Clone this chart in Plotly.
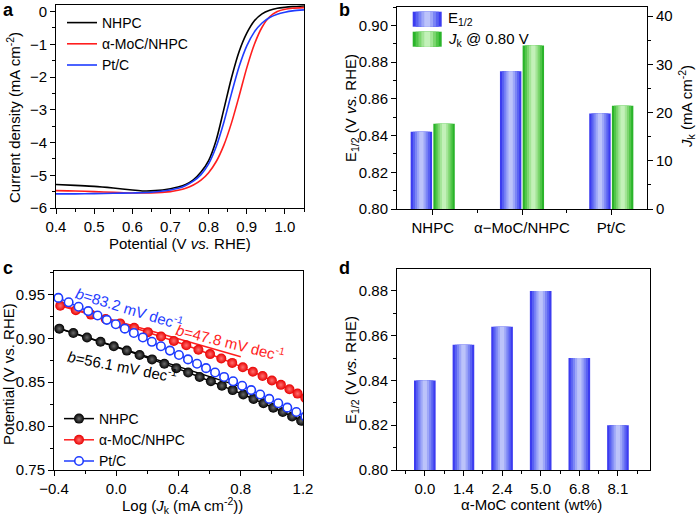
import plotly.graph_objects as go

# ---------------- Panel a: LSV curves ----------------
E_nhpc = [0.40, 0.45, 0.50, 0.55, 0.60, 0.63, 0.66, 0.70, 0.72, 0.74, 0.76, 0.78, 0.80, 0.82, 0.84, 0.86, 0.88, 0.90, 0.92, 0.94, 0.96, 0.98, 1.00, 1.02, 1.05]
j_nhpc = [-5.28, -5.31, -5.34, -5.39, -5.45, -5.48, -5.47, -5.41, -5.36, -5.28, -5.14, -4.90, -4.55, -3.92, -2.98, -2.02, -1.22, -0.66, -0.28, -0.07, 0.04, 0.10, 0.13, 0.15, 0.17]
E_moc = [0.40, 0.45, 0.50, 0.55, 0.60, 0.65, 0.70, 0.72, 0.74, 0.76, 0.78, 0.80, 0.82, 0.84, 0.86, 0.88, 0.90, 0.92, 0.94, 0.96, 0.98, 1.00, 1.02, 1.05]
j_moc = [-5.47, -5.48, -5.50, -5.52, -5.54, -5.54, -5.50, -5.46, -5.40, -5.30, -5.15, -4.92, -4.58, -4.08, -3.40, -2.58, -1.72, -1.00, -0.48, -0.16, 0.00, 0.07, 0.10, 0.12]
E_ptc = [0.40, 0.45, 0.50, 0.55, 0.60, 0.65, 0.70, 0.72, 0.74, 0.76, 0.78, 0.80, 0.82, 0.84, 0.86, 0.88, 0.90, 0.92, 0.94, 0.96, 0.98, 1.00, 1.02, 1.05]
j_ptc = [-5.57, -5.57, -5.56, -5.55, -5.54, -5.52, -5.45, -5.40, -5.31, -5.18, -4.98, -4.65, -4.12, -3.38, -2.50, -1.68, -1.05, -0.62, -0.35, -0.18, -0.08, -0.02, 0.02, 0.05]

# ---------------- Panel b: E1/2 and Jk ----------------
b_cats = ["NHPC", "\u03b1\u2212MoC/NHPC", "Pt/C"]
b_e12 = [0.842, 0.875, 0.852]
b_jk = [17.7, 33.9, 21.4]

# ---------------- Panel c: Tafel plots ----------------
c_x_nhpc = [-0.366, -0.276, -0.188, -0.101, -0.016, 0.068, 0.150, 0.230, 0.309, 0.386, 0.462, 0.536, 0.608, 0.679, 0.748, 0.816, 0.882, 0.946, 1.009, 1.070, 1.130, 1.188]
c_y_nhpc = [0.911, 0.906, 0.901, 0.896, 0.891, 0.886, 0.881, 0.876, 0.871, 0.866, 0.861, 0.856, 0.851, 0.846, 0.841, 0.836, 0.831, 0.826, 0.821, 0.816, 0.811, 0.806]
c_x_moc = [-0.360, -0.260, -0.163, -0.068, 0.025, 0.115, 0.203, 0.288, 0.370, 0.450, 0.528, 0.603, 0.675, 0.745, 0.813, 0.878, 0.940, 1.000, 1.058, 1.113, 1.165, 1.215]
c_y_moc = [0.937, 0.932, 0.927, 0.922, 0.917, 0.912, 0.907, 0.902, 0.897, 0.892, 0.887, 0.882, 0.877, 0.872, 0.867, 0.862, 0.857, 0.852, 0.847, 0.842, 0.837, 0.832]
c_x_ptc = [-0.372, -0.306, -0.242, -0.180, -0.120, -0.061, -0.003, 0.055, 0.113, 0.171, 0.229, 0.287, 0.345, 0.403, 0.461, 0.519, 0.577, 0.635, 0.693, 0.751, 0.809, 0.867, 0.925, 0.983, 1.041, 1.099, 1.157, 1.215]
c_y_ptc = [0.946, 0.941, 0.936, 0.931, 0.926, 0.921, 0.916, 0.911, 0.906, 0.901, 0.896, 0.891, 0.886, 0.881, 0.876, 0.871, 0.866, 0.861, 0.856, 0.851, 0.846, 0.841, 0.836, 0.831, 0.826, 0.821, 0.816, 0.811]
fit_x = [-0.38, 0.80]
fit_y_nhpc = [0.912, 0.845]
fit_y_moc = [0.939, 0.879]
tafel_labels = ["<i>b</i>=83.2 mV dec<sup>-1</sup>", "<i>b</i>=47.8 mV dec<sup>-1</sup>", "<i>b</i>=56.1 mV dec<sup>-1</sup>"]

# ---------------- Panel d: E1/2 vs content ----------------
d_labels = ["0.0", "1.4", "2.4", "5.0", "6.8", "8.1"]
d_e12 = [0.840, 0.856, 0.864, 0.880, 0.850, 0.820]

FONT = "Liberation Sans, Arial, sans-serif"
FS = 15
LFS = 14
W, H = 698, 516
BLACK, RED, BLUE = "#000000", "#ff1e1e", "#1f3cff"
BLUE_GRAD = ["#3c3cf0", "#5a62f2", "#7b85f5", "#9ea7f8", "#bcc3fa"]
GREEN_GRAD = ["#2ab42a", "#52c64a", "#7cd66f", "#a3e597", "#c3f1b9"]
FRACS = [1.0, 0.8, 0.6, 0.4, 0.2]


def px(x):
    return x / W


def py(y):
    return 1 - y / H


fig = go.Figure()

# panel a
for E, j, name, col in [(E_nhpc, j_nhpc, "NHPC", BLACK), (E_moc, j_moc, "\u03b1-MoC/NHPC", RED), (E_ptc, j_ptc, "Pt/C", BLUE)]:
    fig.add_trace(go.Scatter(x=E, y=j, mode="lines", name=name, line=dict(color=col, width=1.6, shape="spline", smoothing=0.8),
                             xaxis="x", yaxis="y", legend="legend"))

# panel b bars (gradient by overlaid layers)
bw = 0.24
pos_blue = [i - 0.127 for i in range(len(b_cats))]
pos_green = [i + 0.127 for i in range(len(b_cats))]
for f, c in zip(FRACS, BLUE_GRAD):
    fig.add_trace(go.Bar(x=pos_blue, y=b_e12, width=[bw * f] * 3, marker=dict(color=c, line=dict(width=0)),
                         xaxis="x2", yaxis="y2", showlegend=False))
for f, c in zip(FRACS, GREEN_GRAD):
    fig.add_trace(go.Bar(x=pos_green, y=b_jk, width=[bw * f] * 3, marker=dict(color=c, line=dict(width=0)),
                         xaxis="x2", yaxis="y3", showlegend=False))

# panel c
fig.add_trace(go.Scatter(x=fit_x, y=fit_y_nhpc, mode="lines", line=dict(color=BLACK, width=1.5), xaxis="x3", yaxis="y4", showlegend=False))
fig.add_trace(go.Scatter(x=fit_x, y=fit_y_moc, mode="lines", line=dict(color=RED, width=1.5), xaxis="x3", yaxis="y4", showlegend=False))
fig.add_trace(go.Scatter(x=c_x_nhpc, y=c_y_nhpc, mode="lines+markers", name="NHPC",
                         line=dict(color=BLACK, width=1.5),
                         marker=dict(size=10, color=BLACK, gradient=dict(type="radial", color="#6a6a6a"), line=dict(width=0)),
                         xaxis="x3", yaxis="y4", legend="legend2"))
fig.add_trace(go.Scatter(x=c_x_moc, y=c_y_moc, mode="lines+markers", name="\u03b1-MoC/NHPC",
                         line=dict(color=RED, width=1.5),
                         marker=dict(size=10, color="#e80000", gradient=dict(type="radial", color="#ff7070"), line=dict(width=0)),
                         xaxis="x3", yaxis="y4", legend="legend2"))
fig.add_trace(go.Scatter(x=c_x_ptc, y=c_y_ptc, mode="lines+markers", name="Pt/C",
                         line=dict(color=BLUE, width=1.5),
                         marker=dict(size=8.5, color="white", symbol="circle", line=dict(color=BLUE, width=1.6)),
                         xaxis="x3", yaxis="y4", legend="legend2"))

# panel d
dx = list(range(len(d_labels)))
for f, c in zip(FRACS, BLUE_GRAD):
    fig.add_trace(go.Bar(x=dx, y=d_e12, width=[0.56 * f] * len(dx), marker=dict(color=c, line=dict(width=0)),
                         xaxis="x4", yaxis="y5", showlegend=False))

axis_common = dict(showline=True, linecolor="black", linewidth=1, mirror=True, ticks="outside", ticklen=5,
                   tickwidth=1, tickcolor="black", showgrid=False, zeroline=False, automargin=False,
                   tickfont=dict(family=FONT, size=FS, color="black"),
                   minor=dict(ticks="outside", ticklen=3, tickwidth=1, tickcolor="black", showgrid=False))

fig.update_layout(
    width=W, height=H, margin=dict(l=0, r=0, t=0, b=0, autoexpand=False), paper_bgcolor="white", plot_bgcolor="white",
    barmode="overlay", font=dict(family=FONT, size=FS, color="black"),
    xaxis=dict(axis_common, domain=[px(56), px(304)], range=[0.4, 1.05], dtick=0.1, tick0=0, tickformat=".1f",
               anchor="y", minor=dict(axis_common["minor"], dtick=0.05)),
    yaxis=dict(axis_common, domain=[py(208), py(5)], range=[-6, 0.2], dtick=1, tick0=0, anchor="x",
               minor=dict(axis_common["minor"], dtick=0.5)),
    xaxis2=dict(axis_common, domain=[px(397), px(647)], range=[-0.4, 2.4], tickvals=[0, 1, 2], ticktext=b_cats,
                anchor="y2", minor=dict(axis_common["minor"], tickvals=[-0.5, 0.5, 1.5, 2.5])),
    yaxis2=dict(axis_common, domain=[py(209), py(7)], range=[0.80, 0.91], dtick=0.02, tick0=0, tickformat=".2f",
                anchor="x2", minor=dict(axis_common["minor"], dtick=0.01)),
    yaxis3=dict(axis_common, overlaying="y2", side="right", range=[0, 41.9], dtick=10, tick0=0, anchor="x2",
                mirror=False, minor=dict(axis_common["minor"], dtick=5)),
    xaxis3=dict(axis_common, domain=[px(54), px(303)], range=[-0.4, 1.2], dtick=0.4, tick0=0, tickformat=".1f",
                anchor="y4", minor=dict(axis_common["minor"], dtick=0.2)),
    yaxis4=dict(axis_common, domain=[py(470), py(270.7)], range=[0.75, 0.977], dtick=0.05, tick0=0, tickformat=".2f",
                anchor="x3", minor=dict(axis_common["minor"], dtick=0.025)),
    xaxis4=dict(axis_common, domain=[px(397), px(650)], range=[-0.72, 5.83], tickvals=dx, ticktext=d_labels,
                anchor="y5", minor=dict(axis_common["minor"], tickvals=[-0.5, 0.5, 1.5, 2.5, 3.5, 4.5, 5.5])),
    yaxis5=dict(axis_common, domain=[py(470), py(269)], range=[0.80, 0.8898], dtick=0.02, tick0=0, tickformat=".2f",
                anchor="x4", minor=dict(axis_common["minor"], dtick=0.01)),
    legend=dict(x=px(62), y=py(7), xanchor="left", yanchor="top", bgcolor="rgba(0,0,0,0)",
                font=dict(family=FONT, size=LFS), tracegroupgap=0, itemwidth=30),
    legend2=dict(x=px(59), y=py(403), xanchor="left", yanchor="top", bgcolor="rgba(0,0,0,0)",
                 font=dict(family=FONT, size=LFS), tracegroupgap=0, itemwidth=30),
    showlegend=True,
)

# panel b legend boxes (gradient) drawn as shapes
shapes = []
for (y0, y1, grad) in [(11.7, 26.7, BLUE_GRAD), (31.7, 46.7, GREEN_GRAD)]:
    cx, w = 427.2, 29.0
    for f, c in zip(FRACS, grad):
        shapes.append(dict(type="rect", xref="paper", yref="paper", x0=px(cx - w * f / 2), x1=px(cx + w * f / 2),
                           y0=py(y1), y1=py(y0), fillcolor=c, line=dict(width=0), layer="above"))
fig.update_layout(shapes=shapes)

ann = []


def txt(x, y, s, size=FS, angle=0, xanchor="center", color="black", xref="paper", yref="paper"):
    ann.append(dict(x=x, y=y, xref=xref, yref=yref, text=s, showarrow=False, textangle=angle,
                    xanchor=xanchor, yanchor="middle", font=dict(family=FONT, size=size, color=color)))


# panel letters
txt(px(8), py(10), "<b>a</b>", size=18)
txt(px(344), py(10), "<b>b</b>", size=18)
txt(px(8), py(268), "<b>c</b>", size=18)
txt(px(344), py(268), "<b>d</b>", size=18)
# axis titles
txt(px(14), py(118), "Current density (mA cm<sup>-2</sup>)", angle=-90)
txt(px(180), py(244), "Potential (V <i>vs.</i> RHE)")
txt(px(351), py(108), "E<sub>1/2</sub> (V <i>vs.</i> RHE)", angle=-90)
txt(px(686), py(107), "<i>J</i><sub>k</sub> (mA cm<sup>-2</sup>)", angle=-90)
txt(px(8), py(374), "Potential (V vs. RHE)", angle=-90)
txt(px(183), py(505), "Log (<i>J</i><sub>k</sub> (mA cm<sup>-2</sup>))")
txt(px(351), py(370), "E<sub>1/2</sub> (V <i>vs.</i> RHE)", angle=-90)
txt(px(531), py(504), "\u03b1-MoC content (wt%)")
# panel b legend text
txt(px(446), py(19), "E<sub>1/2</sub>", xanchor="left")
txt(px(446), py(39), "<i>J</i><sub>k</sub> @ 0.80 V", xanchor="left")
# tafel slope labels (data coords)
txt(0.082, 0.935, tafel_labels[0], angle=17, color=BLUE, xref="x3", yref="y4")
txt(0.731, 0.896, tafel_labels[1], angle=14, color=RED, xref="x3", yref="y4")
txt(0.040, 0.869, tafel_labels[2], angle=11, color=BLACK, xref="x3", yref="y4")

fig.update_layout(annotations=ann)
fig.write_html("out.html", config={"displayModeBar": False},
               post_script="document.body.style.margin='0px';document.body.style.padding='0px';")
